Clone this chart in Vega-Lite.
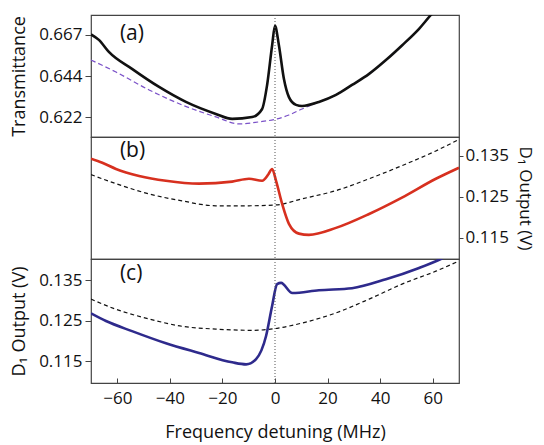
{
  "$schema": "https://vega.github.io/schema/vega-lite/v6.json",
  "padding": {"left": 10, "top": 13, "right": 8, "bottom": 4},
  "spacing": 0,
  "bounds": "flush",
  "config": {
    "font": "Open Sans",
    "view": {"stroke": "#444", "strokeWidth": 1.2},
    "axis": {"grid": false, "domain": false, "labelFont": "Open Sans", "titleFont": "Open Sans", "labelFontSize": 17, "titleFontSize": 18, "titleFontWeight": "normal", "labelColor": "#111", "titleColor": "#111", "tickColor": "#444", "tickSize": 6, "labelPadding": 3}
  },
  "datasets": {
    "a_meas": [
      {"x": -70, "y": 0.667}, {"x": -67, "y": 0.664}, {"x": -63.2, "y": 0.6575}, {"x": -54.4, "y": 0.6483},
      {"x": -44.1, "y": 0.6385}, {"x": -33.9, "y": 0.6304}, {"x": -22.5, "y": 0.6239}, {"x": -16.3, "y": 0.6212},
      {"x": -8.7, "y": 0.6222}, {"x": -4.9, "y": 0.6266}, {"x": -3, "y": 0.6396}, {"x": -1.1, "y": 0.661},
      {"x": 0, "y": 0.6716}, {"x": 1.5, "y": 0.661}, {"x": 3.4, "y": 0.6428}, {"x": 5.3, "y": 0.633},
      {"x": 8, "y": 0.6288}, {"x": 10.3, "y": 0.6282}, {"x": 16.7, "y": 0.6304}, {"x": 23.2, "y": 0.6342},
      {"x": 29.3, "y": 0.6396}, {"x": 35.8, "y": 0.6456}, {"x": 42.2, "y": 0.6531}, {"x": 48.3, "y": 0.661},
      {"x": 54.8, "y": 0.67}, {"x": 59.3, "y": 0.6775}, {"x": 63, "y": 0.683}
    ],
    "a_base": [
      {"x": -70, "y": 0.6531}, {"x": -60.5, "y": 0.6466}, {"x": -47.9, "y": 0.6369}, {"x": -35.4, "y": 0.6288},
      {"x": -22.5, "y": 0.6223}, {"x": -13.7, "y": 0.6185}, {"x": -6.1, "y": 0.6196}, {"x": 0.8, "y": 0.6212},
      {"x": 5.3, "y": 0.6233}, {"x": 10.3, "y": 0.6266}, {"x": 16.7, "y": 0.6304}, {"x": 23.2, "y": 0.6342},
      {"x": 29.3, "y": 0.6396}, {"x": 35.8, "y": 0.6456}, {"x": 42.2, "y": 0.6531}, {"x": 48.3, "y": 0.661},
      {"x": 54.8, "y": 0.67}, {"x": 59.3, "y": 0.6775}, {"x": 63, "y": 0.683}
    ],
    "b_meas": [
      {"x": -70, "y": 0.1343}, {"x": -65.7, "y": 0.1333}, {"x": -60.5, "y": 0.1318}, {"x": -51.7, "y": 0.1301},
      {"x": -41.5, "y": 0.1289}, {"x": -28.9, "y": 0.1282}, {"x": -16.3, "y": 0.1287}, {"x": -9.9, "y": 0.1294},
      {"x": -4.9, "y": 0.1289}, {"x": -2.5, "y": 0.1305}, {"x": -1.1, "y": 0.1318}, {"x": 0.4, "y": 0.1289},
      {"x": 2.7, "y": 0.1233}, {"x": 5.3, "y": 0.1184}, {"x": 9.1, "y": 0.116}, {"x": 12.9, "y": 0.1157},
      {"x": 23.2, "y": 0.1174}, {"x": 35.8, "y": 0.1208}, {"x": 48.3, "y": 0.1248}, {"x": 61.2, "y": 0.1294},
      {"x": 70, "y": 0.1321}
    ],
    "b_base": [
      {"x": -70, "y": 0.1304}, {"x": -60.5, "y": 0.1282}, {"x": -47.9, "y": 0.1257}, {"x": -35.4, "y": 0.124},
      {"x": -22.5, "y": 0.1228}, {"x": -9.9, "y": 0.1228}, {"x": 0.4, "y": 0.123}, {"x": 10.3, "y": 0.1245},
      {"x": 23.2, "y": 0.1265}, {"x": 35.8, "y": 0.1294}, {"x": 48.3, "y": 0.1326}, {"x": 61.2, "y": 0.1362},
      {"x": 70, "y": 0.139}
    ],
    "c_meas": [
      {"x": -70, "y": 0.1268}, {"x": -64.3, "y": 0.1249}, {"x": -54.4, "y": 0.1224}, {"x": -41.5, "y": 0.1194},
      {"x": -28.9, "y": 0.117}, {"x": -16.3, "y": 0.1147}, {"x": -11, "y": 0.1142}, {"x": -7.2, "y": 0.1155},
      {"x": -3.4, "y": 0.1212}, {"x": -1.1, "y": 0.1286}, {"x": 0.8, "y": 0.134}, {"x": 2.3, "y": 0.1343},
      {"x": 6.6, "y": 0.1318}, {"x": 16.7, "y": 0.1325}, {"x": 29.3, "y": 0.133}, {"x": 42.2, "y": 0.1352},
      {"x": 54.8, "y": 0.138}, {"x": 63.1, "y": 0.1402}, {"x": 70, "y": 0.1425}
    ],
    "c_base": [
      {"x": -70, "y": 0.1303}, {"x": -60.5, "y": 0.1278}, {"x": -47.9, "y": 0.1254}, {"x": -35.4, "y": 0.1236},
      {"x": -22.5, "y": 0.1229}, {"x": -8.7, "y": 0.1226}, {"x": 0.8, "y": 0.1231}, {"x": 10.3, "y": 0.1244},
      {"x": 23.2, "y": 0.1269}, {"x": 35.8, "y": 0.1303}, {"x": 48.3, "y": 0.134}, {"x": 61.2, "y": 0.1372},
      {"x": 70, "y": 0.1397}
    ],
    "labels_a": [{"x": -59, "y": 0.6672, "t": "(a)"}],
    "labels_b": [{"x": -59, "y": 0.1362, "t": "(b)"}],
    "labels_c": [{"x": -59, "y": 0.1365, "t": "(c)"}],
    "zero": [{"x": 0}]
  },
  "vconcat": [
    {
      "width": 368, "height": 122,
      "encoding": {
        "x": {"field": "x", "type": "quantitative", "scale": {"domain": [-70, 70], "nice": false, "zero": false}, "axis": null}
      },
      "layer": [
        {"data": {"name": "a_base"}, "mark": {"type": "line", "clip": true, "color": "#7b52c8", "strokeWidth": 1.2, "strokeDash": [5, 3], "interpolate": "monotone"},
         "encoding": {"y": {"field": "y", "type": "quantitative", "scale": {"domain": [0.6114, 0.6775], "nice": false, "zero": false},
              "axis": {"title": "Transmittance", "values": [0.6222, 0.6444, 0.6667], "format": ".3f", "titlePadding": 10}}}},
        {"data": {"name": "a_meas"}, "mark": {"type": "line", "clip": true, "color": "#111", "strokeWidth": 2.6, "interpolate": "monotone"},
         "encoding": {"y": {"field": "y", "type": "quantitative"}}},
        {"data": {"name": "zero"}, "mark": {"type": "rule", "color": "#555", "strokeWidth": 1, "strokeDash": [1, 2]}},
        {"data": {"name": "labels_a"}, "mark": {"type": "text", "align": "left", "baseline": "middle", "fontSize": 21, "color": "#111"},
         "encoding": {"y": {"field": "y", "type": "quantitative"}, "text": {"field": "t"}}}
      ]
    },
    {
      "width": 368, "height": 122,
      "encoding": {
        "x": {"field": "x", "type": "quantitative", "scale": {"domain": [-70, 70], "nice": false, "zero": false}, "axis": null}
      },
      "layer": [
        {"data": {"name": "b_base"}, "mark": {"type": "line", "clip": true, "color": "#111", "strokeWidth": 1.2, "strokeDash": [4, 3], "interpolate": "monotone"},
         "encoding": {"y": {"field": "y", "type": "quantitative", "scale": {"domain": [0.1098, 0.1396], "nice": false, "zero": false},
              "axis": {"orient": "right", "title": "D₁ Output (V)", "values": [0.115, 0.125, 0.135], "format": ".3f", "titlePadding": 7, "titleFontSize": 17, "tickSize": 4, "labelPadding": 2}}}},
        {"data": {"name": "b_meas"}, "mark": {"type": "line", "clip": true, "color": "#d7301f", "strokeWidth": 2.6, "interpolate": "monotone"},
         "encoding": {"y": {"field": "y", "type": "quantitative"}}},
        {"data": {"name": "zero"}, "mark": {"type": "rule", "color": "#555", "strokeWidth": 1, "strokeDash": [1, 2]}},
        {"data": {"name": "labels_b"}, "mark": {"type": "text", "align": "left", "baseline": "middle", "fontSize": 21, "color": "#111"},
         "encoding": {"y": {"field": "y", "type": "quantitative"}, "text": {"field": "t"}}}
      ]
    },
    {
      "width": 368, "height": 124,
      "encoding": {
        "x": {"field": "x", "type": "quantitative", "scale": {"domain": [-70, 70], "nice": false, "zero": false},
              "axis": {"title": "Frequency detuning (MHz)", "values": [-60, -40, -20, 0, 20, 40, 60], "tickSize": -5, "labelPadding": 12, "titlePadding": 17}}
      },
      "layer": [
        {"data": {"name": "c_base"}, "mark": {"type": "line", "clip": true, "color": "#111", "strokeWidth": 1.2, "strokeDash": [4, 3], "interpolate": "monotone"},
         "encoding": {"y": {"field": "y", "type": "quantitative", "scale": {"domain": [0.1096, 0.1402], "nice": false, "zero": false},
              "axis": {"title": "D₁ Output (V)", "values": [0.115, 0.125, 0.135], "format": ".3f", "titlePadding": 10}}}},
        {"data": {"name": "c_meas"}, "mark": {"type": "line", "clip": true, "color": "#2e2a8c", "strokeWidth": 2.6, "interpolate": "monotone"},
         "encoding": {"y": {"field": "y", "type": "quantitative"}}},
        {"data": {"name": "zero"}, "mark": {"type": "rule", "color": "#555", "strokeWidth": 1, "strokeDash": [1, 2]}},
        {"data": {"name": "labels_c"}, "mark": {"type": "text", "align": "left", "baseline": "middle", "fontSize": 21, "color": "#111"},
         "encoding": {"y": {"field": "y", "type": "quantitative"}, "text": {"field": "t"}}}
      ]
    }
  ]
}
